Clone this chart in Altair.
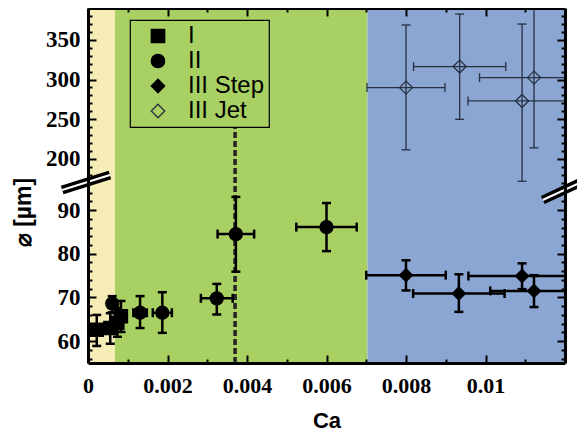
import altair as alt
import pandas as pd

# ---------------- data ----------------
types = ["I", "I", "I", "I",
         "II", "II", "II", "II", "II", "II",
         "III Step", "III Step", "III Step", "III Step",
         "III Jet", "III Jet", "III Jet", "III Jet"]
ca = [0.00022, 0.00056, 0.00074, 0.00083,
      0.00061, 0.00131, 0.00187, 0.00324, 0.00372, 0.00600,
      0.00800, 0.00933, 0.01092, 0.01122,
      0.00800, 0.00935, 0.01122, 0.01092]
ca_err = [0.00010, 0.00010, 0.00008, 0.00010,
          0.00005, 0.00017, 0.00024, 0.00040, 0.00046, 0.00076,
          0.00100, 0.00115, 0.00135, 0.00110,
          0.00098, 0.00116, 0.00137, 0.00136]
dia = [62.6, 63.0, 64.2, 65.7,
       68.6, 66.5, 66.5, 69.8, 84.5, 86.1,
       75.1, 70.9, 74.9, 71.5,
       289.8, 316.3, 302.4, 273.0]
dia_lo = [58.9, 59.4, 61.0, 62.1,
          66.6, 63.0, 61.9, 66.1, 75.9, 80.6,
          71.6, 66.7, 71.9, 67.8,
          211.5, 249.9, 214.0, 172.0]
dia_hi = [66.0, 66.4, 67.6, 69.2,
          70.3, 70.3, 71.2, 73.1, 93.0, 91.6,
          78.5, 75.3, 77.8, 75.1,
          368.6, 382.4, 400.0, 369.8]

legend_order = ["I", "II", "III Step", "III Jet"]
legend_shapes = ["square", "circle", "diamond", "diamond"]
legend_fills = ["black", "black", "black", "transparent"]
legend_strokes = ["black", "black", "black", "#26303f"]

region_names = ["I", "II", "III"]
region_start = [0.0, 0.00068, 0.00703]
region_end = [0.00068, 0.00703, 0.012]
region_colors = ["#F5ECB6", "#A9D063", "#8BA6D3"]

crit_ca = [0.0037]
crit_bottom = [55]
crit_top = [239]

# axis break markers (data coordinates)
break_x0 = [-0.00065, 0.01144]
break_x1 = [0.00055, 0.01252]
break_y0 = [94.6, 92.3]
break_y1 = [179.8, 173.5]

x_ticks = [0.0, 0.001, 0.002, 0.003, 0.004, 0.005, 0.006, 0.007, 0.008, 0.009, 0.010, 0.011]
y_major = [60, 70, 80, 90, 200, 250, 300, 350]
y_minor = [56, 58, 62, 64, 66, 68, 72, 74, 76, 78, 82, 84, 86, 88, 92, 94,
           170, 180, 190, 210, 220, 230, 240, 260, 270, 280, 290, 310, 320, 330, 340, 360, 370, 380]

# ---------------- frames ----------------
df = pd.DataFrame({"type": types, "ca": ca, "err": ca_err, "dia": dia, "lo": dia_lo, "hi": dia_hi})
df["xlo"] = df["ca"] - df["err"]
df["xhi"] = df["ca"] + df["err"]
bg_df = pd.DataFrame({"region": region_names, "start": region_start, "end": region_end})
crit_df = pd.DataFrame({"ca": crit_ca, "y0": crit_bottom, "y1": crit_top})
brk_df = pd.DataFrame({"x0": break_x0, "x1": break_x1, "y0": break_y0, "y1": break_y1})

W, H = 477, 355
x_scale = alt.Scale(domain=[0, 0.012], nice=False, zero=False)
y_scale = alt.Scale(domain=[55, 95.5, 166, 390], range=[H, 178, 178, 0], nice=False, zero=False)

major_y_test = "indexof([60,70,80,90,200,250,300,350], datum.value) >= 0"
x_major_test = "round(datum.value*1000) % 2 == 0"

x_axis_bottom = alt.Axis(
    orient="bottom", values=x_ticks, title="Ca",
    labelExpr=f"{x_major_test} ? (datum.value == 0 ? '0' : format(datum.value, '.3~f')) : ''",
    tickSize={"expr": f"{x_major_test} ? -8 : -4"},
    labelPadding=20, labelOverlap=False, labelFlush=False,
    labelFont="Liberation Serif", labelFontWeight="bold", labelFontSize=22, labelColor="black",
    titleFont="Liberation Sans", titleFontWeight="bold", titleFontSize=22, titleColor="black",
    titlePadding=10, domainWidth=3, domainColor="black", tickColor="black", tickWidth=2,
    grid=False, zindex=1,
)
y_axis_left = alt.Axis(
    orient="left", values=y_major + y_minor, title="⌀ [µm]",
    labelExpr=f"{major_y_test} ? datum.label : ''", format="d",
    tickSize={"expr": f"{major_y_test} ? -8 : -4"},
    labelPadding=16, labelOverlap=False, labelFlush=False,
    labelFont="Liberation Serif", labelFontWeight="bold", labelFontSize=23, labelColor="black",
    titleFont="Liberation Sans", titleFontWeight="bold", titleFontSize=23, titleColor="black",
    titleX=-65, titleY=204, titleBaseline="middle", titleAngle=-90,
    domainWidth=3, domainColor="black", tickColor="black", tickWidth=2,
    grid=False, zindex=1,
)
x_axis_top = alt.Axis(
    orient="top", values=x_ticks, title=None, labels=False,
    tickSize={"expr": f"{x_major_test} ? -8 : -4"},
    domainWidth=3, domainColor="black", tickColor="black", tickWidth=2, grid=False, zindex=1,
)
y_axis_right = alt.Axis(
    orient="right", values=y_major + y_minor, title=None, labels=False,
    tickSize={"expr": f"{major_y_test} ? -8 : -4"},
    domainWidth=3, domainColor="black", tickColor="black", tickWidth=2, grid=False, zindex=1,
)

# ---------------- layers ----------------
bg = alt.Chart(bg_df).mark_rect().encode(
    x=alt.X("start:Q", scale=x_scale, axis=None),
    x2="end:Q",
    y=alt.value(0),
    y2=alt.value(H),
    color=alt.Color("region:N", scale=alt.Scale(domain=region_names, range=region_colors), legend=None),
)

crit = alt.Chart(crit_df).mark_rule(strokeDash=[6, 3], strokeWidth=3.6, color="#262626").encode(
    x=alt.X("ca:Q", scale=x_scale, axis=None),
    y=alt.Y("y0:Q", scale=y_scale, axis=None),
    y2="y1:Q",
)


def err_layers(flt, color, width, cap):
    base = alt.Chart(df).transform_filter(flt)
    h = base.mark_rule(color=color, strokeWidth=width, clip=True).encode(
        x=alt.X("xlo:Q", scale=x_scale, axis=None), x2="xhi:Q",
        y=alt.Y("dia:Q", scale=y_scale, axis=None))
    v = base.mark_rule(color=color, strokeWidth=width, clip=True).encode(
        x=alt.X("ca:Q", scale=x_scale, axis=None),
        y=alt.Y("lo:Q", scale=y_scale, axis=None), y2="hi:Q")
    cx = base.transform_fold(["xlo", "xhi"], as_=["end", "xv"]).mark_tick(
        orient="vertical", size=cap, thickness=width, color=color, opacity=1, clip=True).encode(
        x=alt.X("xv:Q", scale=x_scale, axis=None),
        y=alt.Y("dia:Q", scale=y_scale, axis=None))
    cy = base.transform_fold(["lo", "hi"], as_=["end", "yv"]).mark_tick(
        orient="horizontal", size=cap, thickness=width, color=color, opacity=1, clip=True).encode(
        x=alt.X("ca:Q", scale=x_scale, axis=None),
        y=alt.Y("yv:Q", scale=y_scale, axis=None))
    return [h, v, cx, cy]


thick = err_layers(alt.datum.type != "III Jet", "black", 2.5, 9)
thin = err_layers(alt.datum.type == "III Jet", "#26303f", 1.3, 9)

leg = alt.Legend(title=None, orient="none", legendX=42, legendY=12,
                 labelExpr="datum.label + '\u00a0\u00a0\u00a0\u00a0'")
pts = alt.Chart(df).mark_point(filled=True, size=170, opacity=1, strokeWidth=1.3).encode(
    x=alt.X("ca:Q", scale=x_scale, axis=x_axis_bottom),
    y=alt.Y("dia:Q", scale=y_scale, axis=y_axis_left),
    shape=alt.Shape("type:N", scale=alt.Scale(domain=legend_order, range=legend_shapes), legend=leg),
    fill=alt.Fill("type:N", scale=alt.Scale(domain=legend_order, range=legend_fills), legend=leg),
    stroke=alt.Stroke("type:N", scale=alt.Scale(domain=legend_order, range=legend_strokes), legend=leg),
)

mirror = alt.Chart(df).mark_point(opacity=0).encode(
    x=alt.X("ca:Q", scale=x_scale, axis=x_axis_top),
    y=alt.Y("dia:Q", scale=y_scale, axis=y_axis_right),
)

brk_black = alt.Chart(brk_df).mark_rule(color="black", strokeWidth=9).encode(
    x=alt.X("x0:Q", scale=x_scale, axis=None), x2="x1:Q",
    y=alt.Y("y0:Q", scale=y_scale, axis=None), y2="y1:Q")
brk_white = alt.Chart(brk_df).mark_rule(color="white", strokeWidth=2).encode(
    x=alt.X("x0:Q", scale=x_scale, axis=None), x2="x1:Q",
    y=alt.Y("y0:Q", scale=y_scale, axis=None), y2="y1:Q")

chart = alt.layer(
    bg, crit, *thin, *thick, pts, mirror, brk_black, brk_white
).resolve_axis(x="independent", y="independent").properties(
    width=W, height=H,
    autosize=alt.AutoSizeParams(type="none"),
    padding={"left": 80, "top": 0, "right": 12, "bottom": 70},
).configure_view(stroke=None).configure_legend(
    strokeColor="black", strokeWidth=1.2, padding=4, symbolSize=180, symbolStrokeWidth=1.3,
    labelFont="Liberation Sans", labelFontSize=24, labelColor="black", labelOffset=18,
    symbolOffset=12, rowPadding=1,
)

chart.save("out.html", embed_options={"renderer": "svg", "actions": False})
